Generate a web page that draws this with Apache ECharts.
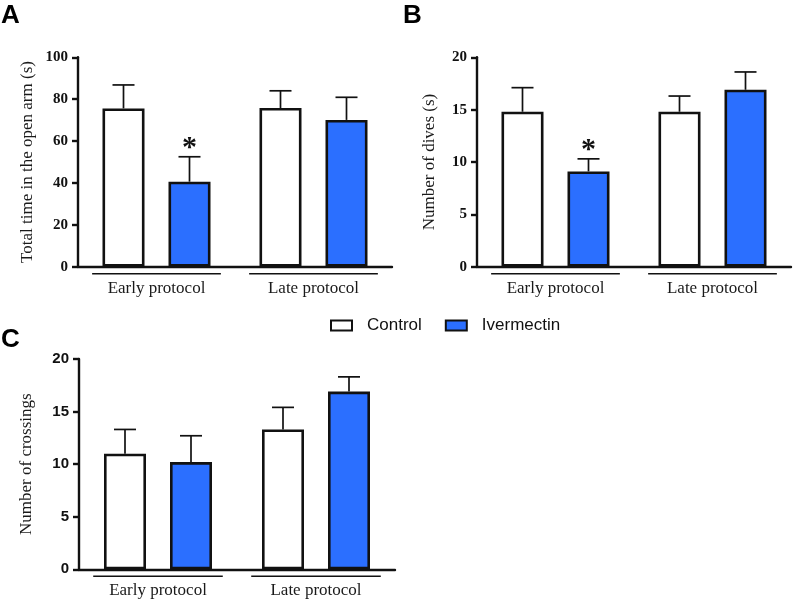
<!DOCTYPE html>
<html>
<head>
<meta charset="utf-8">
<script src="https://cdn.jsdelivr.net/npm/echarts@6/dist/echarts.min.js"></script>
<style>html,body{margin:0;padding:0;background:#fff;}#main{width:794px;height:600px;}</style>
</head>
<body>
<div id="main"></div>
<script>
// ---- data ----
const categories = ['Early protocol', 'Late protocol'];
const seriesNames = ['Control', 'Ivermectin'];

const aControl = [75.6, 75.8];
const aControlSem = [11.2, 8.2];
const aIvermectin = [40.6, 70.1];
const aIvermectinSem = [11.9, 10.8];
const aSig = ['*', ''];            // marks over Ivermectin bars (per category)

const bControl = [14.8, 14.8];
const bControlSem = [2.3, 1.5];
const bIvermectin = [9.1, 16.9];
const bIvermectinSem = [1.2, 1.7];
const bSig = ['*', ''];

const cControl = [11.0, 13.3];
const cControlSem = [2.3, 2.1];
const cIvermectin = [10.2, 16.9];
const cIvermectinSem = [2.5, 1.4];
const cSig = ['', ''];

const aTicks = [0, 20, 40, 60, 80, 100];
const bTicks = [0, 5, 10, 15, 20];
const cTicks = [0, 5, 10, 15, 20];

// ---- styles ----
const SERIF = 'Liberation Serif';
const SANS = 'Liberation Sans';
const BLUE = '#2B6FFF';
const BAR_W = 42;
const BAR_GAP = 24;

const panels = [
  {grid: {left: 78, top: 57.3, width: 314, height: 209.4}, title: 'Total time in the open arm (s)', nameGap: 41.5,
   ticks: aTicks, ctrl: aControl, ctrlSem: aControlSem, iver: aIvermectin, iverSem: aIvermectinSem, sig: aSig, tickFont: SERIF},
  {grid: {left: 477, top: 57.3, width: 314, height: 209.4}, title: 'Number of dives (s)', nameGap: 38.5,
   ticks: bTicks, ctrl: bControl, ctrlSem: bControlSem, iver: bIvermectin, iverSem: bIvermectinSem, sig: bSig, tickFont: SERIF},
  {grid: {left: 79, top: 359, width: 316, height: 210.3}, title: 'Number of crossings', nameGap: 43.5,
   ticks: cTicks, ctrl: cControl, ctrlSem: cControlSem, iver: cIvermectin, iverSem: cIvermectinSem, sig: cSig, tickFont: SANS}
];

function errRender(sign, sigMarks) {
  return function (params, api) {
    const idx = api.value(0);
    const off = sign * (BAR_W / 2 + BAR_GAP / 2);
    const base = api.coord([idx, api.value(1)]);
    const top = api.coord([idx, api.value(2)]);
    const x = base[0] + off;
    const children = [
      {type: 'line', shape: {x1: x, y1: base[1], x2: x, y2: top[1]}, style: {stroke: '#111', lineWidth: 1.7}},
      {type: 'line', shape: {x1: x - 11, y1: top[1], x2: x + 11, y2: top[1]}, style: {stroke: '#111', lineWidth: 1.7}}
    ];
    const m = sigMarks ? sigMarks[idx] : '';
    if (m) {
      children.push({type: 'text', style: {text: m, x: x, y: top[1] + 6, align: 'center', verticalAlign: 'bottom',
        font: 'bold 30px "' + SERIF + '"', fill: '#111'}});
    }
    return {type: 'group', children: children};
  };
}

function underlineRender(params, api) {
  const c = api.coord([api.value(0), 0]);
  const half = api.size([1, 0])[0] * 0.41;
  return {type: 'line', shape: {x1: c[0] - half, y1: c[1] + 7, x2: c[0] + half, y2: c[1] + 7},
    style: {stroke: '#111', lineWidth: 1.6}};
}

const grid = [], xAxis = [], yAxis = [], series = [];
panels.forEach(function (p, i) {
  grid.push(p.grid);
  xAxis.push({type: 'category', gridIndex: i, data: categories,
    axisLine: {lineStyle: {color: '#111', width: 2.4}}, axisTick: {show: false},
    axisLabel: {margin: 13, fontFamily: SERIF, fontSize: 17, color: '#1a1a1a'}});
  const tmax = p.ticks[p.ticks.length - 1];
  yAxis.push({type: 'value', gridIndex: i, min: p.ticks[0], max: tmax, interval: p.ticks[1] - p.ticks[0],
    splitLine: {show: false},
    axisLine: {show: true, lineStyle: {color: '#111', width: 2.4}},
    axisTick: {show: true, length: 6, lineStyle: {color: '#111', width: 2.4}},
    axisLabel: {margin: 10, fontFamily: p.tickFont, fontWeight: 'bold', fontSize: 15, color: '#111'},
    name: p.title, nameLocation: 'middle', nameGap: p.nameGap,
    nameTextStyle: {fontFamily: SERIF, fontSize: 17, color: '#1a1a1a'}});
  series.push({type: 'bar', name: seriesNames[0], xAxisIndex: i, yAxisIndex: i, data: p.ctrl,
    barWidth: BAR_W, barGap: (BAR_GAP / BAR_W * 100) + '%',
    itemStyle: {color: '#fff', borderColor: '#111', borderWidth: 2.6}, z: 2});
  series.push({type: 'bar', name: seriesNames[1], xAxisIndex: i, yAxisIndex: i, data: p.iver,
    barWidth: BAR_W, barGap: (BAR_GAP / BAR_W * 100) + '%',
    itemStyle: {color: BLUE, borderColor: '#111', borderWidth: 2.6}, z: 2});
  series.push({type: 'custom', xAxisIndex: i, yAxisIndex: i, renderItem: errRender(-1, null), clip: false, z: 1,
    encode: {x: 0, y: [1, 2]}, silent: true,
    data: p.ctrl.map(function (v, k) { return [k, v, v + p.ctrlSem[k]]; })});
  series.push({type: 'custom', xAxisIndex: i, yAxisIndex: i, renderItem: errRender(1, p.sig), clip: false, z: 1,
    encode: {x: 0, y: [1, 2]}, silent: true,
    data: p.iver.map(function (v, k) { return [k, v, v + p.iverSem[k]]; })});
  series.push({type: 'custom', xAxisIndex: i, yAxisIndex: i, renderItem: underlineRender, clip: false, z: 1,
    encode: {x: 0, y: 1}, silent: true,
    data: categories.map(function (c, k) { return [k, 0]; })});
});

const option = {
  animation: false,
  backgroundColor: '#fff',
  title: [
    {text: 'A', left: 1, top: 3, padding: 0, textStyle: {fontFamily: SANS, fontWeight: 'bold', fontSize: 26, color: '#000'}},
    {text: 'B', left: 403, top: 3, padding: 0, textStyle: {fontFamily: SANS, fontWeight: 'bold', fontSize: 26, color: '#000'}},
    {text: 'C', left: 1, top: 327, padding: 0, textStyle: {fontFamily: SANS, fontWeight: 'bold', fontSize: 26, color: '#000'}}
  ],
  legend: {data: seriesNames, left: 330, top: 317, padding: 0, itemWidth: 21, itemHeight: 10, itemGap: 23,
    icon: 'rect', textStyle: {fontFamily: SANS, fontSize: 17, color: '#111', padding: [0, 0, 0, 10]}},
  grid: grid, xAxis: xAxis, yAxis: yAxis, series: series
};

const chart = echarts.init(document.getElementById('main'), null, {renderer: 'canvas'});
chart.setOption(option);
</script>
</body>
</html>
